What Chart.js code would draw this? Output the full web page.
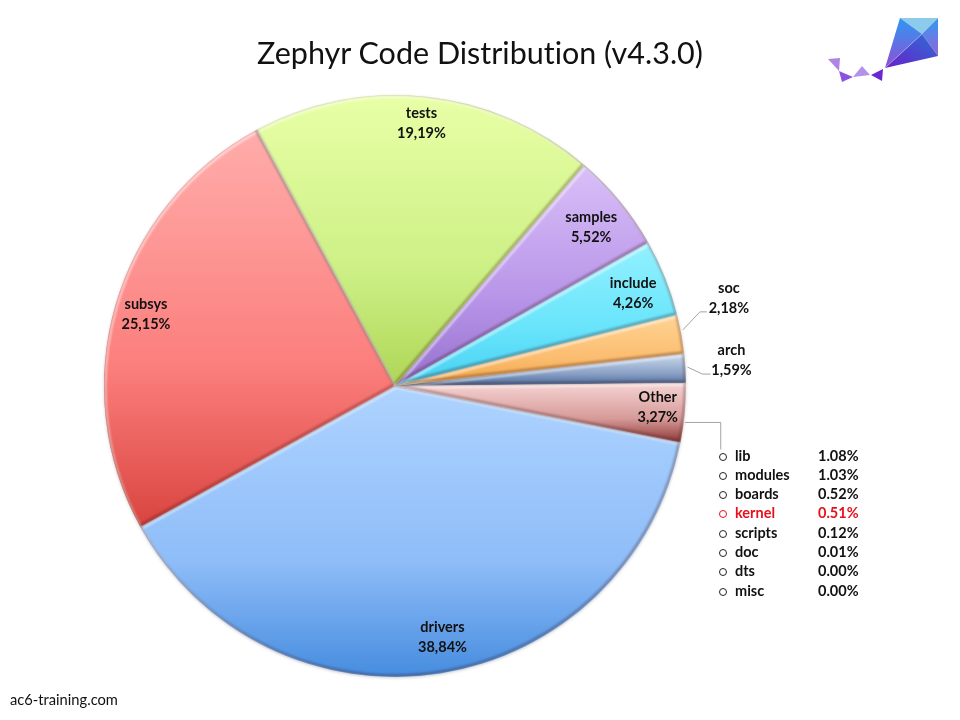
<!DOCTYPE html>
<html>
<head>
<meta charset="utf-8">
<title>Zephyr Code Distribution</title>
<script src="https://cdn.jsdelivr.net/npm/chart.js@4/dist/chart.umd.min.js"></script>
<style>
  html, body { margin: 0; background: #fff; }
  #wrap { position: relative; width: 960px; height: 720px; overflow: hidden; font-family: Lato, sans-serif; color: #111; font-variant-ligatures: none; }
  #codeChart { position: absolute; left: 0; top: 0; }
  h1 { position: absolute; left: 0; top: 31px; width: 960px; margin: 0; text-align: center; font-size: 30.5px; line-height: 42px; font-weight: 400; }
  #logo { position: absolute; left: 0; top: 0; }
  #footer { position: absolute; left: 10px; top: 690px; font-size: 14.7px; line-height: 18px; }
  #otherList { position: absolute; left: 717px; top: 445.5px; font-size: 14.5px; font-weight: 700; }
  #otherList div { position: relative; height: 19.3px; line-height: 19.3px; width: 160px; }
  #otherList .dot { position: absolute; left: 2px; top: 7px; width: 6px; height: 6px; border: 1px solid #222; border-radius: 50%; }
  #otherList .hot .dot { border-color: #e8101c; }
  #otherList .name { position: absolute; left: 18px; }
  #otherList .val { position: absolute; left: 101px; }
  #otherList .hot { color: #e8101c; }
</style>
</head>
<body>
<div id="wrap">
  <canvas id="codeChart" width="960" height="720"></canvas>
  <h1>Zephyr Code Distribution (v4.3.0)</h1>
  <svg id="logo" width="960" height="100">
    <defs>
      <linearGradient id="kiteLeft" x1="0" y1="0" x2="0" y2="1"><stop offset="0" stop-color="#2f97f2"/><stop offset="1" stop-color="#8e4fd4"/></linearGradient>
      <linearGradient id="kiteRight" x1="0" y1="0" x2="0" y2="1"><stop offset="0" stop-color="#2f9af2"/><stop offset="1" stop-color="#9a62d8"/></linearGradient>
      <linearGradient id="kiteLow" x1="1" y1="0" x2="0" y2="1"><stop offset="0" stop-color="#2d6ed6"/><stop offset="1" stop-color="#6a1fc8"/></linearGradient>
    </defs>
    <polygon points="900,18 938,18 922,34" fill="#8ccbec"/>
    <polygon points="900,18 922,34 885,68" fill="url(#kiteLeft)"/>
    <polygon points="938,18 938,56 922,34" fill="url(#kiteRight)"/>
    <polygon points="922,34 938,56 885,68" fill="url(#kiteLow)"/>
    <polyline points="885,68 922,34" fill="none" stroke="#fff" stroke-opacity="0.35" stroke-width="0.8"/>
    <polygon points="828,59 840,58 839,71" fill="#ac86e2"/>
    <polygon points="839,71 853,77 842,82" fill="#8c52e2"/>
    <polygon points="853,77 862,66 870,75" fill="#b292ea"/>
    <polygon points="871,75 883,69 882,81" fill="#6a28d0"/>
  </svg>
  <div id="otherList"></div>
  <div id="footer">ac6-training.com</div>
</div>
<script>
const categories = ['drivers', 'subsys', 'tests', 'samples', 'include', 'soc', 'arch', 'Other'];
const percentages = [38.84, 25.15, 19.19, 5.52, 4.26, 2.18, 1.59, 3.27];
const otherNames = ['lib', 'modules', 'boards', 'kernel', 'scripts', 'doc', 'dts', 'misc'];
const otherValues = [1.08, 1.03, 0.52, 0.51, 0.12, 0.01, 0.00, 0.00];

const startRotation = 101.2;
const topColors = ['#aed3ff', '#ffadab', '#e8ffa6', '#d9bff8', '#93f1ff', '#ffd494', '#cbdaee', '#f5d4d3'];
const midColors = ['#8fbdf8', '#fb7e7c', '#cdf086', '#b895e8', '#68e4fb', '#fbbd70', '#8ba2c6', '#d69a98'];
const bottomColors = ['#468cdf', '#d9443f', '#aed656', '#9670ce', '#45d0f3', '#efa546', '#47689a', '#8c3735'];
// label and leader line offsets, in px from the outer edge of each slice
const labelOffsets = [[2.5, -36.4], [30.3, 10.4], [-4.5, 26.7], [-28.6, 26], [-32, 15.7], [47.5, -36.5], [46, -8.5], [-27, -5.5]];
const leaders = { 5: [[1.5, -4.5], [18.5, -22.5], [25.5, -22.5]], 6: [[2, -1.5], [17, 5.5], [25, 5.5]], 7: [[0, 9.5], [36, 9.5], [36, 36.5]] };

const toPercentText = (v) => v.toFixed(2).replace('.', ',') + '%';

function sliceGradient(context) {
  const { chart, dataIndex } = context;
  const area = chart.chartArea;
  if (!area) return topColors[dataIndex];
  const cy = (area.top + area.bottom) / 2;
  const r = Math.min(area.width, area.height) / 2;
  const total = percentages.reduce((a, b) => a + b, 0);
  const before = percentages.slice(0, dataIndex).reduce((a, b) => a + b, 0);
  const a0 = startRotation + before / total * 360;
  const a1 = a0 + percentages[dataIndex] / total * 360;
  const ys = [cy];
  for (let a = a0; a < a1; a += 1) ys.push(cy - Math.cos(a * Math.PI / 180) * r);
  ys.push(cy - Math.cos(a1 * Math.PI / 180) * r);
  const g = chart.ctx.createLinearGradient(0, Math.min(...ys), 0, Math.max(...ys));
  g.addColorStop(0, topColors[dataIndex]);
  g.addColorStop(0.6, midColors[dataIndex]);
  g.addColorStop(1, bottomColors[dataIndex]);
  return g;
}

function tracePath(ctx, arc, dx, dy) {
  ctx.beginPath();
  ctx.moveTo(arc.x + dx, arc.y + dy);
  ctx.arc(arc.x + dx, arc.y + dy, arc.outerRadius, arc.startAngle, arc.endAngle);
  ctx.closePath();
}

// soft drop shadow under the pie, then a bevel inside every slice
const sliceShade = {
  id: 'sliceShade',
  beforeDatasetDraw(chart) {
    const ctx = chart.ctx;
    ctx.save();
    ctx.shadowColor = 'rgba(40,40,40,0.25)';
    ctx.shadowBlur = 3;
    ctx.shadowOffsetY = 1;
  },
  afterDatasetDraw(chart) {
    const ctx = chart.ctx;
    ctx.restore();
    chart.getDatasetMeta(0).data.forEach((arc) => {
      ctx.save();
      tracePath(ctx, arc, 0, 0);
      ctx.clip();
      ctx.filter = 'blur(1px)';
      ctx.lineWidth = 2.5;
      ctx.strokeStyle = 'rgba(255,255,255,0.6)';
      tracePath(ctx, arc, 1, 1.5);
      ctx.stroke();
      ctx.strokeStyle = 'rgba(60,20,20,0.35)';
      tracePath(ctx, arc, -1, -1.5);
      ctx.stroke();
      ctx.restore();
    });
  }
};

const sliceLabels = {
  id: 'sliceLabels',
  afterDraw(chart) {
    const ctx = chart.ctx;
    const arcs = chart.getDatasetMeta(0).data;
    ctx.save();
    arcs.forEach((arc, i) => {
      const mid = (arc.startAngle + arc.endAngle) / 2;
      const ex = arc.x + Math.cos(mid) * arc.outerRadius;
      const ey = arc.y + Math.sin(mid) * arc.outerRadius;
      if (leaders[i]) {
        ctx.strokeStyle = '#a3a3a3';
        ctx.lineWidth = 1;
        ctx.beginPath();
        leaders[i].forEach(([dx, dy], k) => {
          if (k === 0) ctx.moveTo(ex + dx, ey + dy);
          else ctx.lineTo(ex + dx, ey + dy);
        });
        ctx.stroke();
      }
      const lx = ex + labelOffsets[i][0];
      const ly = ey + labelOffsets[i][1];
      ctx.font = '700 14.5px Lato, sans-serif';
      ctx.fillStyle = '#111';
      ctx.textAlign = 'center';
      ctx.textBaseline = 'middle';
      ctx.fillText(categories[i], lx, ly - 10);
      ctx.fillText(toPercentText(percentages[i]), lx, ly + 10);
    });
    ctx.restore();
  }
};

new Chart(document.getElementById('codeChart').getContext('2d'), {
  type: 'pie',
  data: {
    labels: categories,
    datasets: [{
      data: percentages,
      backgroundColor: sliceGradient,
      borderWidth: 0
    }]
  },
  options: {
    responsive: false,
    animation: false,
    rotation: startRotation,
    layout: { padding: { left: 103, right: 273, top: 95, bottom: 43 } },
    plugins: {
      legend: { display: false },
      tooltip: { enabled: false }
    }
  },
  plugins: [sliceShade, sliceLabels]
});

document.getElementById('otherList').innerHTML = otherNames.map((name, i) => {
  const hot = name === 'kernel' ? ' class="hot"' : '';
  return `<div${hot}><span class="dot"></span><span class="name">${name}</span><span class="val">${otherValues[i].toFixed(2)}%</span></div>`;
}).join('');
</script>
</body>
</html>
